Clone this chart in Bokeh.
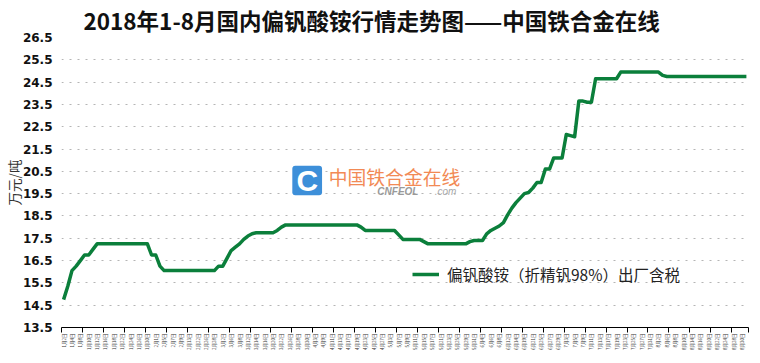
import math
from bokeh.plotting import figure
from bokeh.models import (ColumnDataSource, Range1d, FixedTicker, Legend, LegendItem,
                          Label, BoxAnnotation)
from bokeh.embed import file_html
from bokeh.resources import INLINE

# ---------------- data ----------------
trading_days = {
    1: [2, 3, 4, 5, 8, 9, 10, 11, 12, 15, 16, 17, 18, 19, 22, 23, 24, 25, 26, 29, 30, 31],
    2: [1, 2, 5, 6, 7, 8, 9, 12, 13, 14, 22, 23, 26, 27, 28],
    3: [1, 2, 5, 6, 7, 8, 9, 12, 13, 14, 15, 16, 19, 20, 21, 22, 23, 26, 27, 28, 29, 30],
    4: [2, 3, 4, 9, 10, 11, 12, 13, 16, 17, 18, 19, 20, 23, 24, 25, 26, 27],
    5: [2, 3, 4, 7, 8, 9, 10, 11, 14, 15, 16, 17, 18, 21, 22, 23, 24, 25, 28, 29, 30, 31],
    6: [1, 4, 5, 6, 7, 8, 11, 12, 13, 14, 15, 19, 20, 21, 22, 25, 26, 27, 28, 29],
    7: [2, 3, 4, 5, 6, 9, 10, 11, 12, 13, 16, 17, 18, 19, 20, 23, 24, 25, 26, 27, 30, 31],
    8: [1, 2, 3, 6, 7, 8, 9, 10, 13, 14, 15, 16, 17, 20, 21, 22, 23, 24, 27, 28, 29, 30, 31],
}
dates = [f"{m}月{d}日" for m in sorted(trading_days) for d in trading_days[m]]

# 偏钒酸铵（折精钒98%）出厂含税, 万元/吨
prices = [
    14.75, 15.35, 16.05, 16.25, 16.5, 16.75, 16.75, 17.0,
    17.25, 17.25, 17.25, 17.25, 17.25, 17.25, 17.25, 17.25, 17.25, 17.25, 17.25, 17.25, 17.25,
    16.75, 16.75, 16.25,
    16.05, 16.05, 16.05, 16.05, 16.05, 16.05, 16.05, 16.05, 16.05, 16.05, 16.05, 16.05, 16.05,
    16.25, 16.25, 16.6, 16.95, 17.1, 17.25, 17.45, 17.6, 17.7,
    17.75, 17.75, 17.75, 17.75, 17.75,
    17.85, 18.0,
    18.1, 18.1, 18.1, 18.1, 18.1, 18.1, 18.1, 18.1, 18.1, 18.1, 18.1, 18.1, 18.1, 18.1, 18.1, 18.1, 18.1, 18.1,
    18.0,
    17.85, 17.85, 17.85, 17.85, 17.85, 17.85, 17.85, 17.85,
    17.65,
    17.45, 17.45, 17.45, 17.45, 17.45,
    17.35,
    17.25, 17.25, 17.25, 17.25, 17.25, 17.25, 17.25, 17.25, 17.25, 17.25,
    17.35,
    17.4, 17.4, 17.4,
    17.7, 17.85, 17.95, 18.05, 18.2, 18.55, 18.85, 19.1, 19.3, 19.5, 19.55, 19.75, 20.0, 20.0,
    20.6, 20.6, 21.1, 21.1, 21.1, 22.15, 22.1, 22.05, 23.65, 23.65, 23.6, 23.6,
    24.65, 24.65, 24.65, 24.65, 24.65, 24.65,
    24.95, 24.95, 24.95, 24.95, 24.95, 24.95, 24.95, 24.95, 24.95, 24.95,
    24.8,
    24.75, 24.75, 24.75, 24.75, 24.75, 24.75, 24.75, 24.75, 24.75, 24.75,
    24.75, 24.75, 24.75, 24.75, 24.75, 24.75, 24.75, 24.75, 24.75, 24.75,
]
assert len(prices) == len(dates)

y_ticks = [13.5, 14.5, 15.5, 16.5, 17.5, 18.5, 19.5, 20.5, 21.5, 22.5, 23.5, 24.5, 25.5, 26.5]
title_text = "2018年1-8月国内偏钒酸铵行情走势图——中国铁合金在线"
series_name = "偏钒酸铵（折精钒98%）出厂含税"
y_label = "万元/吨"

# ---------------- figure ----------------
GREEN = "#0b7f3b"
CJK = "Noto Sans CJK SC"

n = len(dates)
idx = list(range(n))
src = ColumnDataSource(data=dict(x=idx, y=prices, d=dates))

p = figure(frame_width=687, frame_height=290, output_backend="svg", toolbar_location=None,
           x_range=Range1d(-0.5, n - 0.5), y_range=Range1d(y_ticks[0], y_ticks[-1]),
           min_border_left=54, min_border_right=3, min_border_top=29, min_border_bottom=28)
p.outline_line_color = None
p.background_fill_color = "white"

p.title.text = title_text
p.title.text_font = CJK
p.title.text_font_size = "22.5px"
p.title.text_font_style = "bold"
p.title.text_color = "#111111"
p.title.align = "left"
p.title.offset = 22
p.title.standoff = 3

# x axis
xax = p.xaxis[0]
xax.ticker = FixedTicker(ticks=idx[::2], minor_ticks=[i - 0.5 for i in idx[::5]] + [n - 0.5])
xax.major_label_overrides = {i: dates[i] for i in idx[::2]}
xax.major_label_orientation = math.pi / 2
xax.major_label_text_font = CJK
xax.major_label_text_font_size = "4.5px"
xax.major_label_text_color = "#333333"
xax.major_label_standoff = 1
xax.major_tick_out = 0
xax.major_tick_in = 0
xax.minor_tick_out = 5
xax.minor_tick_in = 0
xax.minor_tick_line_color = "black"
xax.axis_line_color = "black"
xax.axis_line_width = 1.2

# y axis
yax = p.yaxis[0]
yax.ticker = FixedTicker(ticks=y_ticks)
yax.major_label_overrides = {v: f"{v:.1f}" for v in y_ticks}
yax.axis_line_color = None
yax.major_tick_line_color = None
yax.minor_tick_line_color = None
yax.major_label_text_font = "DejaVu Sans"
yax.major_label_text_font_style = "bold"
yax.major_label_text_font_size = "12px"
yax.major_label_text_color = "#111111"
yax.major_label_standoff = 3
yax.axis_label = y_label
yax.axis_label_text_font = CJK
yax.axis_label_text_font_size = "13.5px"
yax.axis_label_text_font_style = "normal"
yax.axis_label_text_color = "#333333"
yax.axis_label_standoff = -4

p.xgrid.grid_line_color = None
p.ygrid.ticker = FixedTicker(ticks=y_ticks[1:])
p.ygrid.grid_line_color = "#b5b5b5"
p.ygrid.grid_line_dash = "2 6"
p.ygrid.grid_line_width = 1.2

# watermark (decoration)
p.add_layout(BoxAnnotation(left=54.6, right=61.7, bottom=19.43, top=20.75,
                           fill_color="#3d8fd9", fill_alpha=1.0, line_color=None,
                           border_radius=3, level="underlay"))
p.add_layout(Label(x=58.2, y=20.08, text="C", text_align="center", text_baseline="middle",
                   text_font="Liberation Sans", text_font_style="bold",
                   text_font_size="30px", text_color="white", level="underlay"))
p.add_layout(Label(x=63.3, y=20.26, text="中国铁合金在线", text_align="left", text_baseline="middle",
                   text_font=CJK, text_font_size="18.8px", text_color="#f28a55",
                   background_fill_color="white", level="underlay"))
p.add_layout(Label(x=74.9, y=19.61, text="CNFEOL", text_align="left", text_baseline="middle",
                   text_font="Liberation Sans", text_font_style="bold italic",
                   text_font_size="10px", text_color="#9a9a9a", level="underlay"))
p.add_layout(Label(x=88.6, y=19.61, text=".com", text_align="left", text_baseline="middle",
                   text_font="Liberation Sans", text_font_style="italic",
                   text_font_size="10px", text_color="#a8a8a8", level="underlay"))

r = p.line(x="x", y="y", source=src, line_color=GREEN, line_width=3.5, line_join="round")

legend = Legend(items=[LegendItem(label=series_name, renderers=[r])], location=(351, 42),
                glyph_width=27, glyph_height=16, label_standoff=8, padding=0, margin=0,
                spacing=0, border_line_color=None, background_fill_alpha=0,
                label_text_font=CJK, label_text_font_size="15.5px", label_text_color="#222222",
                label_height=16)
p.add_layout(legend)

open("out.html", "w").write(file_html(p, INLINE))
